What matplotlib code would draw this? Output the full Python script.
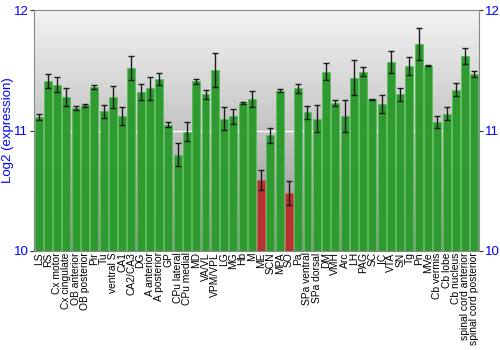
import numpy as np
import matplotlib
matplotlib.use("Agg")
import matplotlib.pyplot as plt
from matplotlib.colors import LinearSegmentedColormap

plt.rcParams["font.family"] = ["Liberation Sans", "DejaVu Sans"]

regions = ["LS", "RS", "Cx motor", "Cx cingulate", "OB anterior", "OB posterior",
           "Pir", "Tu", "ventral S", "CA1", "CA2/CA3", "DG", "A anterior",
           "A posterior", "GP", "CPu lateral", "CPu medial", "MD", "VA/VL",
           "VPM/VPL", "LG", "MG", "Hb", "M", "ME", "SCN", "MPA", "SO", "Pa",
           "SPa ventral", "SPa dorsal", "DM", "VMH", "Arc", "LH", "PAG", "SC",
           "IC", "VTA", "SN", "Tg", "Pn", "MVe", "Cb vermis", "Cb lobe",
           "Cb nucleus", "spinal cord anterior", "spinal cord posterior"]

log2_expr = [11.11, 11.41, 11.38, 11.28, 11.19, 11.21, 11.36, 11.16, 11.28,
             11.12, 11.52, 11.32, 11.35, 11.43, 11.05, 10.80, 10.99, 11.41,
             11.30, 11.50, 11.10, 11.12, 11.23, 11.26, 10.59, 10.96, 11.33,
             10.48, 11.35, 11.15, 11.10, 11.49, 11.23, 11.12, 11.44, 11.49,
             11.26, 11.22, 11.57, 11.30, 11.54, 11.72, 11.54, 11.07, 11.14,
             11.34, 11.62, 11.47]

sem = [0.025, 0.058, 0.063, 0.073, 0.018, 0.011, 0.018, 0.055, 0.090, 0.072,
       0.100, 0.069, 0.097, 0.050, 0.022, 0.097, 0.080, 0.020, 0.040, 0.140,
       0.097, 0.062, 0.008, 0.068, 0.080, 0.062, 0.012, 0.098, 0.037, 0.054,
       0.110, 0.069, 0.023, 0.130, 0.148, 0.041, 0.006, 0.075, 0.094, 0.052,
       0.075, 0.130, 0.004, 0.048, 0.052, 0.052, 0.069, 0.022]

low_regions = ["ME", "SO"]

fig = plt.figure(figsize=(5, 3.5), dpi=100)
ax = fig.add_axes([0.068, 0.283, 0.89, 0.688])

x = np.arange(len(regions))
ax.set_xlim(-0.5, len(regions) - 0.5)
ax.set_ylim(10, 12)

# vertical grey gradient background
grad = LinearSegmentedColormap.from_list("bg", ["#8e8e8e", "#c4c4c4", "#f3f3f3"])
ax.imshow(np.linspace(0, 1, 256).reshape(-1, 1), aspect="auto", cmap=grad,
          extent=(-0.5, len(regions) - 0.5, 10, 12), origin="lower", zorder=0)
ax.axhline(11, color="white", lw=1.0, zorder=1)

colors = ["#b83232" if r in low_regions else "#2f9a2f" for r in regions]
edges = ["#d06060" if r in low_regions else "#5cbf5c" for r in regions]
heights = [v - 10 for v in log2_expr]
ax.bar(x, heights, bottom=10, width=0.86, color=colors, edgecolor=edges,
       linewidth=0.6, zorder=2)
ax.errorbar(x, log2_expr, yerr=sem, fmt="none", ecolor="#1a1a1a",
            elinewidth=1.0, capsize=2, capthick=1.0, zorder=3)

ax.set_yticks([10, 11, 12])
ax.set_yticklabels(["10", "11", "12"])
ax.tick_params(axis="y", colors="#333333", labelcolor="#0000ff", labelsize=9.5,
               length=3, direction="out", right=True, labelright=True, pad=1)
ax.set_xticks(x)
ax.set_xticklabels(regions, rotation=90, fontsize=7.4)
ax.tick_params(axis="x", length=0, pad=1)
ax.set_ylabel("Log2 (expression)", color="#0000ff", fontsize=9.5)
ax.yaxis.set_label_coords(-0.046, 0.5)

for s in ax.spines.values():
    s.set_color("#888888")
    s.set_linewidth(0.8)

fig.savefig("out.png", dpi=100)
